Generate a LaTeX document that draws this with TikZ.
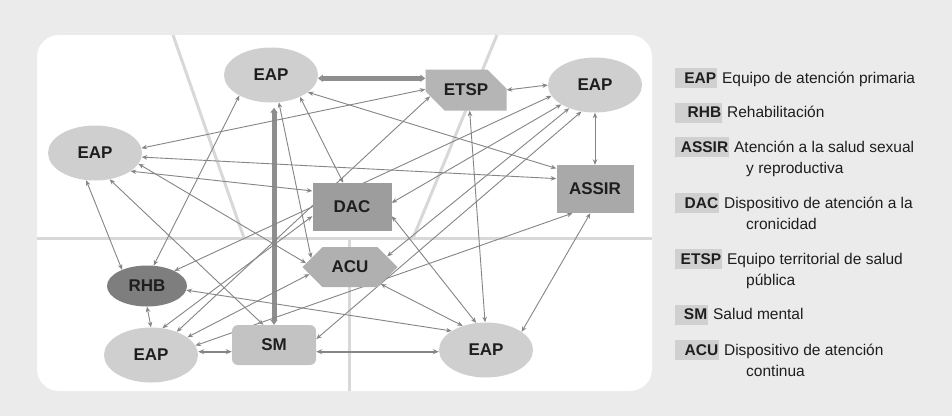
\documentclass[tikz,border=0pt]{standalone}
\usepackage{fontspec}
\setmainfont{Liberation Sans}
\usetikzlibrary{shapes.geometric,shapes.misc,shapes.symbols,arrows.meta,positioning}

\definecolor{pagegray}{HTML}{EBEBEB}
\definecolor{quadgray}{HTML}{D8D8D8}
\definecolor{eapgray}{HTML}{CFCFCF}
\definecolor{rhbgray}{HTML}{7E7E7E}
\definecolor{etspgray}{HTML}{B5B5B5}
\definecolor{dacgray}{HTML}{9D9D9D}
\definecolor{assirgray}{HTML}{A9A9A9}
\definecolor{acugray}{HTML}{B0B0B0}
\definecolor{smgray}{HTML}{C3C3C3}
\definecolor{keygray}{HTML}{D0D0D0}
\definecolor{linkgray}{HTML}{858585}
\definecolor{heavygray}{HTML}{8E8E8E}
\definecolor{inkgray}{HTML}{1E1E1E}

\pgfdeclarelayer{bg}
\pgfdeclarelayer{edges}
\pgfsetlayers{bg,edges,main}

\begin{document}
\begin{tikzpicture}[x=1pt, y=-1pt,
    unit/.style={inner sep=0pt, text=inkgray, font=\fontsize{17}{18}\selectfont\bfseries},
    eap/.style={unit, ellipse, fill=eapgray, minimum width=94, minimum height=55},
    block/.style={unit, rectangle},
    tsp/.style={unit, chamfered rectangle, chamfered rectangle corners={north east, south west},
      chamfered rectangle xsep=10pt, chamfered rectangle ysep=13pt, fill=etspgray,
      minimum width=81, minimum height=41},
    hexa/.style={unit, signal, signal to=east and west, signal pointer angle=90, fill=acugray,
      minimum width=95, minimum height=40},
    link/.style={{Stealth[length=5.5pt,width=4.5pt]}-{Stealth[length=5.5pt,width=4.5pt]}, draw=linkgray, line width=0.9pt},
    mid/.style={{Stealth[length=6pt,width=5pt]}-{Stealth[length=6pt,width=5pt]}, draw=linkgray, line width=1.8pt},
    heavy/.style={{Triangle[length=5pt,width=7pt]}-{Triangle[length=5pt,width=7pt]}, draw=heavygray, line width=5pt},
    quad/.style={draw=quadgray, line width=3pt},
    legkey/.style={fill=keygray, inner xsep=1pt, inner ysep=0pt, minimum height=20, align=right,
      text=inkgray, font=\fontsize{15.5}{18}\selectfont\bfseries},
    legtxt/.style={inner sep=0pt, text=inkgray, font=\fontsize{15.5}{18}\selectfont}
  ]
  % panel and quadrants
  \begin{pgfonlayer}{bg}
    \fill[pagegray] (0,0) rectangle (952,416);
    \fill[white, rounded corners=22] (37,35) rectangle (652,391);
    \draw[quad] (37,238) -- (652,238);
    \draw[quad] (349,238) -- (349,391);
    \draw[quad] (173,35) -- (244,238);
    \draw[quad] (497,35) -- (413,238);
  \end{pgfonlayer}

  % services
  \node[eap] (eapN) at (271,75) {EAP};
  \node[tsp] (etsp) at (466,90) {ETSP};
  \node[eap] (eapNE) at (595,85) {EAP};
  \node[eap] (eapW) at (95,153) {EAP};
  \node[block, fill=assirgray, minimum width=77, minimum height=48] (assir) at (595,189) {ASSIR};
  \node[block, fill=dacgray, minimum width=79, minimum height=48] (dac) at (352,207) {DAC};
  \node[hexa] (acu) at (350,267) {ACU};
  \node[eap, fill=rhbgray, minimum width=80, minimum height=41] (rhb) at (147,286) {RHB};
  \node[eap] (eapSW) at (151,355) {EAP};
  \node[block, fill=smgray, rounded corners=6, minimum width=84, minimum height=40] (sm) at (274,345) {SM};
  \node[eap] (eapSE) at (486,350) {EAP};

  % connections
  \begin{pgfonlayer}{edges}
    \draw[heavy] (eapN.-4) -- (eapN.-4 -| etsp.west);
    \draw[heavy, shorten >=5pt] (sm.north) -- (sm.north |- eapN.south);
    \draw[mid] (sm.189) -- (sm.189 -| eapSW.east);
    \draw[mid] (sm.-9.5) -- (sm.-9.5 -| eapSE.west);

    \draw[link] (eapN.213) -- (rhb.72);
    \draw[link] (eapN.-74) -- (acu.167);
    \draw[link] (eapN.-37) -- (dac.110);
    \draw[link] (eapN.-25) -- (assir.152);

    \draw[link] (eapW.6) -- (etsp.179);
    \draw[link] (eapW.-5) -- (assir.165);
    \draw[link] (eapW.-27) -- (dac.158);
    \draw[link] (eapW.-14) -- (acu.175);
    \draw[link] (eapW.-61) -- (sm.118);
    \draw[link] (eapW.-108) -- (rhb.147);

    \draw[link] (etsp.east) -- (eapNE.west);
    \draw[link] (etsp.190) -- (eapSW.42);
    \draw[link] (etsp.-80) -- (eapSE.92);

    \draw[link] (eapNE.south) -- (assir.north);
    \draw[link] (eapNE.194) -- (rhb.29);
    \draw[link] (eapNE.210) -- (dac.6);
    \draw[link] (eapNE.222) -- (acu.16);
    \draw[link] (eapNE.243) -- (sm.8);

    \draw[link] (eapSW.67) -- (dac.193);
    \draw[link] (eapSW.26) -- (acu.190);
    \draw[link] (eapSW.12) -- (assir.227);
    \draw[link] (rhb.south) -- (eapSW.north);

    \draw[link] (eapSE.110) -- (dac.-13);
    \draw[link] (eapSE.134) -- (acu.-29);
    \draw[link] (eapSE.151) -- (rhb.-6);
    \draw[link] (eapSE.27) -- (assir.259);
  \end{pgfonlayer}

  % legend
  \node[legkey, anchor=west, text width=40] (keyEAP) at (675,78) {EAP};
  \node[legtxt, anchor=base west] (txtEAP) at ([xshift=4.5pt]keyEAP.base east) {Equipo de atención primaria};

  \node[legkey, anchor=west, text width=45] (keyRHB) at (675,112.5) {RHB};
  \node[legtxt, anchor=base west] (txtRHB) at ([xshift=4.5pt]keyRHB.base east) {Rehabilitación};

  \node[legkey, anchor=west, text width=52] (keyASSIR) at (675,147) {ASSIR};
  \node[legtxt, anchor=base west] (txtASSIR) at ([xshift=4.5pt]keyASSIR.base east) {Atención a la salud sexual};
  \node[legtxt, anchor=base west] (txtASSIRb) at ([xshift=71pt, yshift=-21.5pt]keyASSIR.base west) {y reproductiva};

  \node[legkey, anchor=west, text width=42] (keyDAC) at (675,203) {DAC};
  \node[legtxt, anchor=base west] (txtDAC) at ([xshift=4.5pt]keyDAC.base east) {Dispositivo de atención a la};
  \node[legtxt, anchor=base west] (txtDACb) at ([xshift=71pt, yshift=-21.5pt]keyDAC.base west) {cronicidad};

  \node[legkey, anchor=west, text width=45] (keyETSP) at (675,259) {ETSP};
  \node[legtxt, anchor=base west] (txtETSP) at ([xshift=4.5pt]keyETSP.base east) {Equipo territorial de salud};
  \node[legtxt, anchor=base west] (txtETSPb) at ([xshift=71pt, yshift=-21.5pt]keyETSP.base west) {pública};

  \node[legkey, anchor=west, text width=31] (keySM) at (675,314.5) {SM};
  \node[legtxt, anchor=base west] (txtSM) at ([xshift=4.5pt]keySM.base east) {Salud mental};

  \node[legkey, anchor=west, text width=42] (keyACU) at (675,350) {ACU};
  \node[legtxt, anchor=base west] (txtACU) at ([xshift=4.5pt]keyACU.base east) {Dispositivo de atención};
  \node[legtxt, anchor=base west] (txtACUb) at ([xshift=71pt, yshift=-21.5pt]keyACU.base west) {continua};
\end{tikzpicture}
\end{document}
